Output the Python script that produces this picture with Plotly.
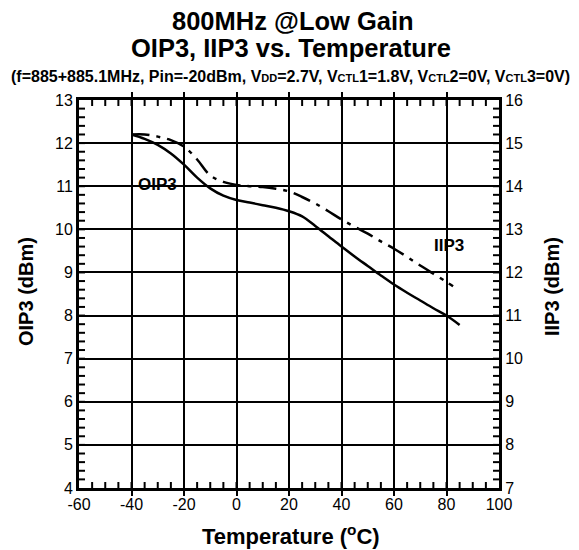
import plotly.graph_objects as go

# Temperature sweep (deg C) and measured linearity
temp_oip3 = [-40, -35, -30, -25, -20, -15, -10, -5, 0, 5, 10, 15, 20, 25, 30, 35, 40, 45, 50, 55, 60, 65, 70, 75, 80, 85]
oip3 = [12.2, 12.1, 11.96, 11.76, 11.5, 11.2, 10.95, 10.78, 10.68, 10.62, 10.56, 10.5, 10.42, 10.3, 10.08, 9.84, 9.6, 9.37, 9.15, 8.93, 8.72, 8.53, 8.35, 8.17, 8.0, 7.78]

temp_iip3 = [-40, -35, -30, -25, -20, -15, -10, -5, 0, 5, 10, 15, 20, 25, 30, 35, 40, 45, 50, 55, 60, 65, 70, 75, 80, 82.5]
iip3 = [15.2, 15.2, 15.15, 15.07, 14.92, 14.62, 14.25, 14.1, 14.03, 14.0, 13.98, 13.94, 13.88, 13.75, 13.6, 13.42, 13.23, 13.06, 12.9, 12.72, 12.55, 12.36, 12.16, 11.97, 11.78, 11.68]

# Axis ranges and tick spacing
x_range = [-60, 100]
x_step = 20
x_minor = 5
left_range = [4, 13]
right_range = [7, 16]
y_step = 1
y_minor = 0.2
# plain hyphen for negative tick labels
x_alias = {"\u221260": "-60", "\u221240": "-40", "\u221220": "-20"}

FONT = "Arial, Liberation Sans, sans-serif"
PLOT_W, PLOT_H = 420, 388   # plot area in px
TICK = 6                    # small tick length, px

fig = go.Figure()
fig.add_trace(go.Scatter(x=temp_oip3, y=oip3, mode="lines", line=dict(color="black", width=2.5, shape="spline"),
                         yaxis="y", showlegend=False))
fig.add_trace(go.Scatter(x=temp_iip3, y=iip3, mode="lines",
                         line=dict(color="black", width=2.5, dash="18px,7px,4px,7px", shape="spline"),
                         yaxis="y2", showlegend=False))

# Small inward ticks along the frame, as short segments in data units
dx = TICK / PLOT_W * (x_range[1] - x_range[0])
dy = TICK / PLOT_H * (left_range[1] - left_range[0])
tx, ty = [], []
n_x = round((x_range[1] - x_range[0]) / x_minor)
for i in range(1, n_x):
    xv = x_range[0] + i * x_minor
    tx += [xv, xv, None, xv, xv, None]
    ty += [left_range[0], left_range[0] + dy, None, left_range[1] - dy, left_range[1], None]
n_y = round((left_range[1] - left_range[0]) / y_minor)
for i in range(1, n_y):
    yv = left_range[0] + i * y_minor
    tx += [x_range[0], x_range[0] + dx, None, x_range[1] - dx, x_range[1], None]
    ty += [yv, yv, None, yv, yv, None]
fig.add_trace(go.Scatter(x=tx, y=ty, mode="lines", line=dict(color="black", width=2),
                         connectgaps=False, hoverinfo="skip", showlegend=False))

axis_common = dict(
    showline=True, linecolor="black", linewidth=3,
    ticks="inside", ticklen=5, tickwidth=1.5, tickcolor="black",
    tickfont=dict(family=FONT, size=16, color="black"),
    zeroline=False, tickmode="linear",
)

fig.update_layout(
    width=579, height=550,
    margin=dict(l=79, r=80, t=100, b=62),
    paper_bgcolor="white", plot_bgcolor="white",
    xaxis=dict(range=x_range, tick0=x_range[0], dtick=x_step, labelalias=x_alias,
               showgrid=True, gridcolor="black", gridwidth=1.5, mirror="allticks", **axis_common),
    yaxis=dict(range=left_range, tick0=left_range[0], dtick=y_step,
               showgrid=True, gridcolor="black", gridwidth=1.5, mirror=True, **axis_common),
    yaxis2=dict(range=right_range, tick0=right_range[0], dtick=y_step, overlaying="y", side="right",
                showgrid=False, **axis_common),
)

def ann(text, x, y, size, xref="paper", yref="paper", angle=0):
    fig.add_annotation(text=text, x=x, y=y, xref=xref, yref=yref, showarrow=False,
                       font=dict(family=FONT, size=size, color="black"), textangle=angle,
                       xanchor="center", yanchor="middle")

# Titles (paper coords: plot spans 79..499 px horizontally, 100..488 px vertically)
def px_x(p):
    return (p - 79) / PLOT_W

def px_y(p):
    return (488 - p) / PLOT_H

ann("<b>800MHz @Low Gain</b>", px_x(293), px_y(21), 25.5)
ann("<b>OIP3, IIP3 vs. Temperature</b>", px_x(291), px_y(48), 25.5)
small = '<span style="font-size:11px">'
ann("<b>(f=885+885.1MHz, Pin=-20dBm, V" + small + "DD</span>=2.7V, V" + small + "CTL</span>1=1.8V, V"
    + small + "CTL</span>2=0V, V" + small + "CTL</span>3=0V)</b>", px_x(290), px_y(76), 16)
ann("<b>Temperature (<sup>o</sup>C)</b>", px_x(291), px_y(535), 22)
ann("<b>OIP3 (dBm)</b>", px_x(26), px_y(292), 20, angle=-90)
ann("<b>IIP3 (dBm)</b>", px_x(552), px_y(287), 20, angle=-90)

# Curve labels
ann("<b>OIP3</b>", -30, 11.05, 17, xref="x", yref="y")
ann("<b>IIP3</b>", 81, 12.62, 17, xref="x", yref="y2")

fig.write_html("out.html")
